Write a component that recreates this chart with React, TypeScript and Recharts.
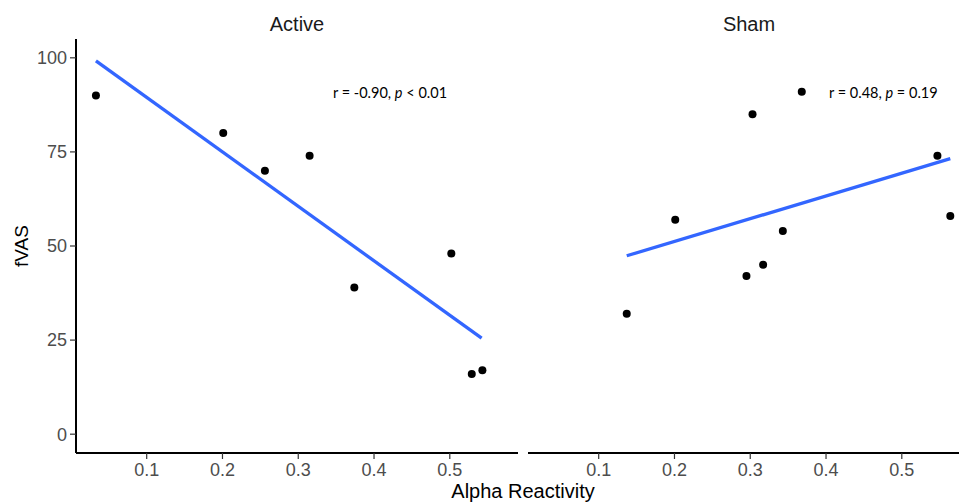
import React from "react";
import { ScatterChart, Scatter, XAxis, YAxis } from "recharts";

// Active group
const activeX = [0.033, 0.201, 0.256, 0.315, 0.374, 0.502, 0.529, 0.543];
const activeY = [90, 80, 70, 74, 39, 48, 16, 17];
// Sham group
const shamX = [0.137, 0.201, 0.295, 0.303, 0.317, 0.343, 0.368, 0.547, 0.564];
const shamY = [32, 57, 42, 85, 45, 54, 91, 74, 58];

// fitted line end points
const activeFitX = [0.033, 0.542];
const activeFitY = [99.2, 25.5];
const shamFitX = [0.137, 0.564];
const shamFitY = [47.4, 73.2];

const xTicks = [0.1, 0.2, 0.3, 0.4, 0.5];
const yTicks = [0, 25, 50, 75, 100];
const panels = ["Active", "Sham"];

const zip = (xs: number[], ys: number[]) => xs.map((x, i) => ({ x, y: ys[i] }));

const FONT = "'Liberation Sans', Arial, Helvetica, sans-serif";
const tickStyle = { fill: "#4D4D4D", fontSize: 18, fontFamily: FONT };

const Dot = (props: any) => <circle cx={props.cx} cy={props.cy} r={4} fill="#000" />;
const NoDot = () => <g />;

function Panel({ pts, fit, showY, width, left }: { pts: any[]; fit: any[]; showY: boolean; width: number; left: number }) {
  return (
    <ScatterChart width={width} height={502} margin={{ top: 39, right: width - left - 442, bottom: 19, left: showY ? 0 : left }}>
      <XAxis
        type="number"
        dataKey="x"
        domain={[0.0067, 0.59]}
        ticks={xTicks}
        allowDataOverflow
        height={30}
        tickSize={6}
        tickMargin={4}
        axisLine={{ stroke: "#000", strokeWidth: 2 }}
        tickLine={{ stroke: "#333", strokeWidth: 1.2 }}
        tick={tickStyle}
      />
      <YAxis
        type="number"
        dataKey="y"
        domain={[-5, 105]}
        ticks={yTicks}
        allowDataOverflow
        hide={!showY}
        width={left}
        tickSize={6}
        tickMargin={3}
        axisLine={{ stroke: "#000", strokeWidth: 2 }}
        tickLine={{ stroke: "#333", strokeWidth: 1.2 }}
        tick={tickStyle}
      />
      <Scatter data={fit} line={{ stroke: "#3366FF", strokeWidth: 3.3 }} shape={NoDot} isAnimationActive={false} />
      <Scatter data={pts} shape={Dot} isAnimationActive={false} />
    </ScatterChart>
  );
}

export default function App() {
  return (
    <div style={{ position: "absolute", left: 0, top: 0, width: 959, height: 502, overflow: "hidden", background: "#fff" }}>
      <div style={{ position: "absolute", left: 0, top: 0 }}>
        <Panel pts={zip(activeX, activeY)} fit={zip(activeFitX, activeFitY)} showY width={523} left={76} />
      </div>
      <div style={{ position: "absolute", left: 523, top: 0 }}>
        <Panel pts={zip(shamX, shamY)} fit={zip(shamFitX, shamFitY)} showY={false} width={447} left={5} />
      </div>
      <svg width={959} height={502} style={{ position: "absolute", left: 0, top: 0, pointerEvents: "none" }}>
        <text x={297} y={31} textAnchor="middle" fontFamily={FONT} fontSize={20} fill="#1A1A1A">{panels[0]}</text>
        <text x={749} y={31} textAnchor="middle" fontFamily={FONT} fontSize={20} fill="#1A1A1A">{panels[1]}</text>
        <text x={523} y={498} textAnchor="middle" fontFamily={FONT} fontSize={20} fill="#000">Alpha Reactivity</text>
        <text x={28} y={246} textAnchor="middle" fontFamily={FONT} fontSize={19} fill="#000" transform="rotate(-90 28 246)">fVAS</text>
        <text x={333} y={98} fontFamily="Lato, 'Open Sans', sans-serif" fontSize={14.5} fill="#000">
          r = -0.90, <tspan fontStyle="italic">p</tspan> {"<"} 0.01
        </text>
        <text x={829} y={98} fontFamily="Lato, 'Open Sans', sans-serif" fontSize={14.5} fill="#000">
          r = 0.48, <tspan fontStyle="italic">p</tspan> = 0.19
        </text>
      </svg>
    </div>
  );
}
